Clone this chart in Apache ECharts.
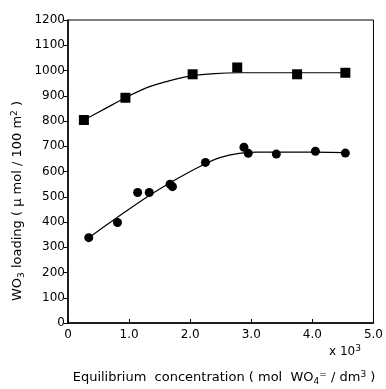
<!DOCTYPE html>
<html>
<head>
<meta charset="utf-8">
<script src="https://cdn.jsdelivr.net/npm/echarts@6/dist/echarts.min.js"></script>
<style>
html,body{margin:0;padding:0;background:#fff;}
#main{width:386px;height:389px;}
</style>
</head>
<body>
<div id="main"></div>
<script>
// measured points (conc x10^3, loading)
var squareX = [0.26, 0.94, 2.04, 2.77, 3.75, 4.54];
var squareY = [804, 892, 985, 1012, 985, 991];
var circleX = [0.34, 0.81, 1.14, 1.33, 1.67, 1.71, 2.25, 2.88, 2.95, 3.41, 4.05, 4.54];
var circleY = [338, 398, 517, 517, 550, 540, 636, 696, 672, 669, 680, 673];
// hand drawn fitted curves
var squareCurveX = [0.26, 0.6, 0.94, 1.3, 1.7, 2.04, 2.4, 2.8, 3.5, 4.54];
var squareCurveY = [804, 848, 892, 933, 962, 980, 988, 991, 991, 991];
var circleCurveX = [0.34, 0.8, 1.3, 1.8, 2.2, 2.5, 2.8, 3.1, 3.6, 4.54];
var circleCurveY = [338, 417, 500, 573, 625, 656, 672, 677, 677, 675];
var xTicks = ['0', '1.0', '2.0', '3.0', '4.0', '5.0'];

function pairs(xs, ys) {
    var out = [];
    for (var i = 0; i < xs.length; i++) out.push([xs[i], ys[i]]);
    return out;
}

var FONT = 'DejaVu Sans';
var richSubSup = {
    sub: {fontSize: 9, fontFamily: FONT, verticalAlign: 'bottom', padding: [7, 0, 0, 0]},
    sup: {fontSize: 9, fontFamily: FONT, verticalAlign: 'top', padding: [0, 0, 7, 0]}
};
var chart = echarts.init(document.getElementById('main'));
var option = {
    backgroundColor: '#fff',
    animation: false,
    textStyle: {fontFamily: FONT, color: '#000'},
    grid: {left: 68, right: 6, top: 20, bottom: 66, show: true, borderColor: '#000', borderWidth: 1},
    xAxis: {
        type: 'value', min: 0, max: 5, interval: 1,
        axisLine: {lineStyle: {color: '#000', width: 1.5}},
        axisTick: {inside: true, length: 4, lineStyle: {color: '#000'}},
        splitLine: {show: false},
        axisLabel: {
            color: '#000', fontSize: 12, margin: 6,
            formatter: function (v) { return xTicks[Math.round(v)]; }
        }
    },
    yAxis: {
        type: 'value', min: 0, max: 1200, interval: 100,
        axisLine: {lineStyle: {color: '#000', width: 1.5}},
        axisTick: {inside: false, length: 4, lineStyle: {color: '#000'}},
        splitLine: {show: false},
        axisLabel: {color: '#000', fontSize: 12, margin: 3, formatter: function (v) { return '' + v; }}
    },
    graphic: [{
        type: 'text', left: 329, top: 344,
        style: {
            text: 'x 10{sup|3}', fill: '#000', font: '12px ' + FONT,
            rich: richSubSup
        }
    }, {
        type: 'text', x: 224, y: 378,
        style: {
            text: 'Equilibrium  concentration ( mol  WO{sub|4}{sup|=} / dm{sup|3} )',
            fill: '#000', font: '13px ' + FONT, align: 'center', verticalAlign: 'middle',
            rich: richSubSup
        }
    }, {
        type: 'text', x: 18, y: 201, rotation: Math.PI / 2,
        style: {
            text: 'WO{sub|3} loading ( \u00b5 mol / 100 m{sup|2} )',
            fill: '#000', font: '13px ' + FONT, align: 'center', verticalAlign: 'middle',
            rich: richSubSup
        }
    }],
    series: [{
        type: 'line', smooth: 0.3, showSymbol: false, silent: true,
        lineStyle: {color: '#000', width: 1.2},
        data: pairs(squareCurveX, squareCurveY)
    }, {
        type: 'line', smooth: 0.3, showSymbol: false, silent: true,
        lineStyle: {color: '#000', width: 1.2},
        data: pairs(circleCurveX, circleCurveY)
    }, {
        type: 'scatter', symbol: 'rect', symbolSize: 10,
        itemStyle: {color: '#000', opacity: 1},
        data: pairs(squareX, squareY)
    }, {
        type: 'scatter', symbol: 'circle', symbolSize: 9,
        itemStyle: {color: '#000', opacity: 1},
        data: pairs(circleX, circleY)
    }]
};
chart.setOption(option);
</script>
</body>
</html>
